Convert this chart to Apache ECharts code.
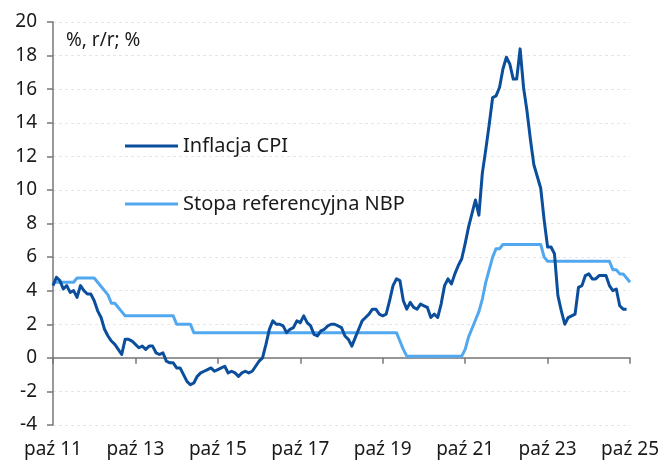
<!DOCTYPE html>
<html>
<head>
<meta charset="utf-8">
<script src="https://cdn.jsdelivr.net/npm/echarts@6/dist/echarts.min.js"></script>
<style>
	html, body { margin:0; padding:0; background:#fff; }
	#main { width:662px; height:461px; }
</style>
</head>
<body>
<div id="main"></div>
<script>
// miesiace od paź 2011 do paź 2025
var monthNames = ['sty','lut','mar','kwi','maj','cze','lip','sie','wrz','paź','lis','gru'];
var startYear = 2011, startMonth = 9, monthCount = 169;

// inflacja CPI, % r/r (paź 11 - wrz 25)
var cpi = [
	4.3, 4.8, 4.6,
	4.1, 4.3, 3.9, 4.0, 3.6, 4.3, 4.0, 3.8, 3.8, 3.4, 2.8, 2.4,
	1.7, 1.3, 1.0, 0.8, 0.5, 0.2, 1.1, 1.1, 1.0, 0.8, 0.6, 0.7,
	0.5, 0.7, 0.7, 0.3, 0.2, 0.3, -0.2, -0.3, -0.3, -0.6, -0.6, -1.0,
	-1.4, -1.6, -1.5, -1.1, -0.9, -0.8, -0.7, -0.6, -0.8, -0.7, -0.6, -0.5,
	-0.9, -0.8, -0.9, -1.1, -0.9, -0.8, -0.9, -0.8, -0.5, -0.2, 0.0, 0.8,
	1.7, 2.2, 2.0, 2.0, 1.9, 1.5, 1.7, 1.8, 2.2, 2.1, 2.5, 2.1,
	1.9, 1.4, 1.3, 1.6, 1.7, 1.9, 2.0, 2.0, 1.9, 1.8, 1.3, 1.1,
	0.7, 1.2, 1.7, 2.2, 2.4, 2.6, 2.9, 2.9, 2.6, 2.5, 2.6, 3.4,
	4.3, 4.7, 4.6, 3.4, 2.9, 3.3, 3.0, 2.9, 3.2, 3.1, 3.0, 2.4,
	2.6, 2.4, 3.2, 4.3, 4.7, 4.4, 5.0, 5.5, 5.9, 6.8, 7.8, 8.6,
	9.4, 8.5, 11.0, 12.4, 13.9, 15.5, 15.6, 16.1, 17.2, 17.9, 17.5, 16.6,
	16.6, 18.4, 16.1, 14.7, 13.0, 11.5, 10.8, 10.1, 8.2, 6.6, 6.6, 6.2,
	3.7, 2.8, 2.0, 2.4, 2.5, 2.6, 4.2, 4.3, 4.9, 5.0, 4.7, 4.7,
	4.9, 4.9, 4.9, 4.3, 4.0, 4.1, 3.1, 2.9, 2.9
];

// stopa referencyjna NBP, % (paź 11 - paź 25)
var nbp = [
	4.5, 4.5, 4.5,
	4.5, 4.5, 4.5, 4.5, 4.75, 4.75, 4.75, 4.75, 4.75, 4.75, 4.5, 4.25,
	4.0, 3.75, 3.25, 3.25, 3.0, 2.75, 2.5, 2.5, 2.5, 2.5, 2.5, 2.5,
	2.5, 2.5, 2.5, 2.5, 2.5, 2.5, 2.5, 2.5, 2.5, 2.0, 2.0, 2.0,
	2.0, 2.0, 1.5, 1.5, 1.5, 1.5, 1.5, 1.5, 1.5, 1.5, 1.5, 1.5,
	1.5, 1.5, 1.5, 1.5, 1.5, 1.5, 1.5, 1.5, 1.5, 1.5, 1.5, 1.5,
	1.5, 1.5, 1.5, 1.5, 1.5, 1.5, 1.5, 1.5, 1.5, 1.5, 1.5, 1.5,
	1.5, 1.5, 1.5, 1.5, 1.5, 1.5, 1.5, 1.5, 1.5, 1.5, 1.5, 1.5,
	1.5, 1.5, 1.5, 1.5, 1.5, 1.5, 1.5, 1.5, 1.5, 1.5, 1.5, 1.5,
	1.5, 1.5, 1.0, 0.5, 0.1, 0.1, 0.1, 0.1, 0.1, 0.1, 0.1, 0.1,
	0.1, 0.1, 0.1, 0.1, 0.1, 0.1, 0.1, 0.1, 0.1, 0.5, 1.25, 1.75,
	2.25, 2.75, 3.5, 4.5, 5.25, 6.0, 6.5, 6.5, 6.75, 6.75, 6.75, 6.75,
	6.75, 6.75, 6.75, 6.75, 6.75, 6.75, 6.75, 6.75, 6.0, 5.75, 5.75, 5.75,
	5.75, 5.75, 5.75, 5.75, 5.75, 5.75, 5.75, 5.75, 5.75, 5.75, 5.75, 5.75,
	5.75, 5.75, 5.75, 5.75, 5.25, 5.25, 5.0, 5.0, 4.75, 4.5
];

var seriesNames = ['Inflacja CPI', 'Stopa referencyjna NBP'];
var unitText = '%, r/r; %';

var FONT = '"Noto Sans", "DejaVu Sans", sans-serif';

function buildCategories(){
	var cats = [];
	for (var i = 0; i < monthCount; i++) {
		var m = (startMonth + i) % 12;
		var y = startYear + Math.floor((startMonth + i) / 12);
		cats.push(monthNames[m] + ' ' + String(y).slice(2));
	}
	return cats;
}

function everyTwoYears(index){
	return index % 24 === 0;
}

function buildOption(){
	var cats = buildCategories();
	var option = {
		animation: false,
		backgroundColor: '#ffffff',
		color: ['#0a4e9c', '#52a8ef'],
		grid: { left: 53, right: 31, top: 22, bottom: 36 },
		legend: {
			orient: 'vertical',
			left: 125,
			top: 136,
			padding: 0,
			itemGap: 38,
			itemWidth: 53,
			itemHeight: 3,
			icon: 'rect',
			itemStyle: { borderWidth: 0 },
			textStyle: { fontFamily: FONT, fontSize: 20, color: '#1a1a1a', lineHeight: 20 },
			data: seriesNames
		},
		graphic: [{
			type: 'text',
			left: 66,
			top: 31,
			style: { text: unitText, fontFamily: FONT, fontSize: 19, fill: '#1a1a1a' }
		}],
		xAxis: [
			{
				type: 'category',
				data: cats,
				boundaryGap: false,
				position: 'bottom',
				axisLine: { show: false, onZero: false },
				axisTick: { show: false },
				splitLine: { show: false },
				axisLabel: {
					interval: everyTwoYears,
					margin: 15,
					fontFamily: FONT,
					fontSize: 19,
					color: '#1a1a1a'
				}
			},
			{
				type: 'category',
				data: cats,
				boundaryGap: false,
				position: 'bottom',
				axisLine: { show: true, onZero: true, lineStyle: { color: '#777', width: 1.5 } },
				axisTick: { show: true, interval: everyTwoYears, length: 6, lineStyle: { color: '#777', width: 1.5 } },
				axisLabel: { show: false },
				splitLine: { show: false }
			}
		],
		yAxis: {
			type: 'value',
			min: -4,
			max: 20,
			interval: 2,
			axisLine: { show: true, lineStyle: { color: '#777', width: 1.5 } },
			axisTick: { show: true, length: 6, lineStyle: { color: '#777', width: 1.5 } },
			axisLabel: { margin: 16, fontFamily: FONT, fontSize: 19, color: '#1a1a1a' },
			splitLine: { show: true, lineStyle: { color: '#e6e6e6', type: [3, 3], width: 1 } }
		},
		series: [
			{
				name: seriesNames[0],
				type: 'line',
				xAxisIndex: 0,
				data: cpi,
				showSymbol: false,
				symbol: 'none',
				lineStyle: { width: 3, join: 'round' },
				z: 3
			},
			{
				name: seriesNames[1],
				type: 'line',
				xAxisIndex: 0,
				data: nbp,
				showSymbol: false,
				symbol: 'none',
				lineStyle: { width: 3, join: 'round' },
				z: 2
			}
		]
	};
	return option;
}

var myChart = echarts.init(document.getElementById('main'));
myChart.setOption(buildOption());
</script>
</body>
</html>
